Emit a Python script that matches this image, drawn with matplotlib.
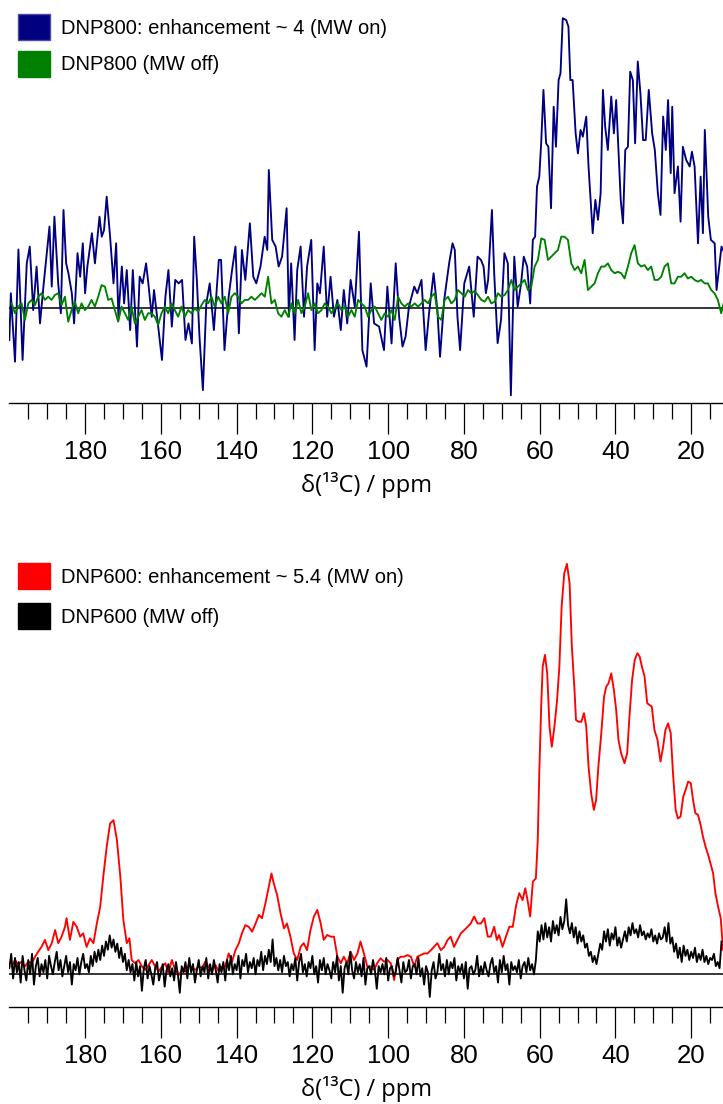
import matplotlib
matplotlib.use('Agg')
import matplotlib.pyplot as plt
from matplotlib.patches import Patch
from matplotlib.ticker import FixedLocator
import numpy as np

# ---- DNP800 (top panel), intensities normalised to the MW-on maximum ----
blue_ppm = [200.0, 199.6, 198.5, 197.6, 196.5, 195.4, 194.6, 193.7, 192.8, 191.9,
            191.0, 189.4, 188.8, 188.1, 187.1, 186.4, 185.7, 185.0, 184.4, 183.5,
            182.9, 182.0, 181.3, 180.6, 180.0, 179.4, 178.2, 177.4, 176.2, 175.6,
            175.0, 174.3, 173.4, 172.5, 171.8, 171.2, 170.3, 169.7, 169.0, 168.1,
            167.4, 166.3, 165.6, 164.8, 163.9, 163.3, 162.4, 161.8, 161.0, 159.7,
            158.8, 158.0, 157.1, 156.2, 155.3, 154.4, 153.5, 152.7, 151.8, 151.2,
            150.5, 149.8, 148.9, 148.0, 147.1, 146.0, 144.7, 144.1, 143.2, 142.1,
            141.2, 140.3, 139.4, 138.6, 137.7, 136.5, 135.6, 134.8, 133.7, 132.6,
            131.9, 131.5, 130.6, 129.7, 128.9, 128.0, 126.8, 126.2, 125.6, 124.7,
            124.0, 123.1, 122.2, 121.4, 120.3, 119.4, 118.7, 118.0, 117.0, 116.1,
            115.2, 114.3, 113.4, 112.5, 111.7, 110.8, 109.9, 108.8, 107.7, 106.8,
            105.7, 104.6, 103.7, 102.4, 101.1, 100.2, 99.1, 98.0, 97.1, 96.2,
            95.4, 94.5, 93.1, 92.3, 91.2, 90.1, 89.2, 88.0, 87.0, 86.3,
            85.2, 83.9, 83.0, 82.4, 81.7, 81.0, 79.9, 78.6, 77.4, 76.4,
            75.5, 74.8, 74.2, 73.6, 72.6, 72.0, 71.1, 70.2, 69.3, 68.4,
            67.6, 66.7, 65.8, 64.9, 64.2, 63.3, 62.5, 61.8, 61.2, 60.7,
            60.1, 59.6, 59.0, 58.3, 57.7, 57.0, 56.3, 55.7, 55.0, 54.5,
            53.9, 53.0, 52.4, 51.9, 51.3, 50.5, 49.9, 49.2, 48.6, 47.7,
            47.1, 46.0, 45.3, 44.6, 43.9, 43.3, 42.7, 42.0, 41.1, 40.4,
            39.8, 39.2, 38.6, 38.0, 37.4, 36.7, 36.1, 35.4, 34.8, 34.1,
            33.4, 32.7, 32.0, 31.2, 30.3, 29.6, 28.8, 28.1, 27.4, 26.7,
            26.1, 25.4, 25.0, 24.4, 23.5, 22.8, 22.2, 21.3, 20.4, 19.8,
            19.1, 18.2, 17.5, 16.9, 16.4, 15.5, 14.8, 13.8, 13.3, 12.7,
            12.0, 11.2]
blue_int = [-10.9, 5.2, -18.4, 20.3, -17.8, 15.5, 21.3, -0.6, 14.4, -5.2,
            7.5, 28.2, 7.5, 31.6, 8.6, -1.7, 33.9, 15.5, 12.1, 5.2,
            -5.2, 19.0, 10.9, 22.4, 5.2, 14.4, 25.9, 15.5, 31.6, 24.7,
            27.0, 38.5, 24.7, 8.6, 22.4, -2.9, 14.4, 1.7, 13.2, -7.5,
            13.2, -13.2, 10.9, 8.6, 15.5, 8.6, -2.9, 6.3, -2.9, -17.8,
            4.0, 13.2, -6.3, 9.8, 8.6, 9.8, -10.9, -5.2, -12.1, 24.7,
            9.8, -9.8, -28.2, 1.7, 8.6, -7.5, 16.7, 16.7, -14.4, 4.0,
            13.2, 21.3, -8.6, 20.1, 9.8, 29.3, 10.9, 8.6, 14.4, 24.7,
            20.1, 47.7, 23.6, 21.3, 14.4, 17.8, 34.5, -2.9, 15.5, -10.9,
            13.2, 21.3, -2.9, 14.4, 23.6, -14.4, 8.6, 5.2, 21.3, -2.9,
            10.9, -2.9, 2.9, -7.5, 6.3, -5.2, 9.8, 0.6, 26.4, -14.4,
            -20.1, 8.6, -5.2, -6.3, -14.4, 7.5, -12.1, 15.5, -2.9, -13.2,
            -9.8, 0.6, 7.5, 5.2, 9.8, -14.4, -1.7, 12.1, -0.6, -16.7,
            2.9, 15.5, 22.4, 20.1, -2.9, -14.4, 8.6, 14.4, -2.9, 17.8,
            16.7, 14.4, 5.2, 9.8, 33.9, 12.1, -12.0, -4.0, 19.0, 15.5,
            -30.0, 17.8, 0.6, 8.6, 17.8, 14.4, 1.7, 23.6, 24.7, 42.0,
            45.4, 56.9, 75.3, 56.9, 55.7, 34.5, 69.5, 55.7, 78.7, 81.0,
            100.0, 99.4, 97.1, 78.7, 78.7, 60.3, 53.4, 61.5, 59.2, 66.1,
            48.9, 25.9, 37.4, 30.5, 39.7, 75.3, 62.6, 54.6, 73.0, 60.3,
            71.8, 54.6, 37.4, 29.3, 54.6, 55.7, 81.6, 78.7, 56.9, 85.1,
            74.1, 58.0, 58.0, 75.3, 60.3, 54.6, 39.7, 32.2, 66.1, 54.6,
            71.8, 46.6, 69.5, 39.7, 48.9, 29.9, 55.7, 51.1, 48.9, 54.0,
            48.9, 22.4, 45.4, 25.9, 61.5, 31.6, 23.6, 22.4, 6.3, 13.2,
            21.3, 19.0]

# MW off, sampled evenly from 199.4 to 11.2 ppm
green_int = [1.7, -1.7, 0.6, 1.7, -4.0, 1.7, 2.9, 1.1, 4.0, 5.2,
             2.9, 4.0, 2.9, 4.6, 5.2, 1.1, 4.0, -4.6, -0.6, 2.3,
             -1.7, 1.7, -0.6, 0.6, 2.9, 0.6, 4.0, 8.0, 7.5, 2.9,
             3.4, -0.6, -4.6, 0.6, -1.7, -4.0, 0.6, -5.2, -2.9, -0.6,
             -4.0, -1.7, -1.7, -2.9, -5.7, -1.7, 0.6, -1.7, 1.7, -0.6,
             -2.9, 0.6, -2.9, -0.6, -1.7, 0.0, -1.1, 1.1, 2.9, 1.7,
             4.0, 0.6, 4.0, 1.7, 4.0, -1.7, 4.0, 5.2, 4.0, 1.7,
             2.9, 2.9, 4.0, 2.9, 4.0, 5.2, 4.0, 10.9, 1.7, 2.9,
             -1.7, -2.9, -0.6, -2.9, 1.7, -1.7, 2.9, -1.7, 0.6, 5.2,
             -0.6, 1.7, -1.7, -0.6, 1.7, 0.6, -1.7, 0.0, 1.7, -0.6,
             0.6, -2.9, -0.6, -2.9, 2.9, 1.7, 0.6, -2.9, -0.6, 0.6,
             -1.7, -4.0, -1.7, -2.9, -0.6, -4.0, 4.0, 1.7, 0.6, 1.7,
             0.6, 1.7, 0.6, 1.7, 2.9, 1.7, 4.0, 5.2, -2.9, -4.0,
             2.9, 4.0, 1.7, 2.9, 6.3, 5.2, 4.0, 6.3, 5.2, 6.0,
             4.5,
             2.9, 2.3, 4.0, 1.7, 2.3, 5.2, 4.0, 4.6, 6.3, 9.8,
             6.3, 7.5, 8.6, 9.8, 6.3, 7.5, 14.4, 16.7, 24.1, 23.6,
             16.7, 17.8, 19.0, 20.1, 24.7, 24.7, 23.6, 15.5, 13.2, 14.4,
             12.1, 16.7, 6.3, 7.5, 8.6, 12.1, 14.4, 14.4, 15.5, 13.2,
             12.1, 12.6, 12.1, 10.3, 14.4, 19.0, 21.8, 15.5, 14.4, 14.9,
             13.2, 14.4, 9.8, 9.8, 10.9, 14.4, 15.5, 8.6, 8.6, 10.9,
             10.9, 12.1, 10.3, 10.9, 9.8, 9.2, 9.8, 8.6, 8.6, 6.3,
             5.2, 2.9, -1.7, 2.9]

# ---- DNP600 (bottom panel) ----
red_ppm = [199.4, 198.5, 197.6, 196.8, 195.9, 195.0, 194.1, 193.2, 192.4, 191.5,
           190.6, 189.7, 188.8, 187.9, 187.1, 186.2, 185.3, 184.9, 184.0, 183.1,
           182.2, 181.3, 180.5, 179.6, 178.7, 177.8, 176.9, 176.0, 175.2, 174.3,
           173.4, 172.5, 171.6, 170.7, 169.9, 169.0, 168.3, 167.7, 166.8, 165.9,
           165.0, 164.1, 163.2, 162.4, 161.5, 160.6, 159.7, 158.8, 158.0, 157.1,
           156.2, 155.3, 154.4, 153.5, 152.7, 151.8, 150.9, 150.0, 149.1, 148.3,
           147.4, 146.5, 145.6, 144.7, 143.8, 143.0, 142.1, 141.2, 140.3, 139.4,
           138.6, 137.7, 136.8, 135.9, 135.0, 134.1, 133.3, 132.4, 131.5, 130.8,
           130.2, 129.3, 128.4, 127.5, 126.7, 125.8, 124.9, 124.0, 123.1, 122.3,
           121.4, 120.5, 119.6, 118.7, 117.8, 117.0, 116.1, 115.2, 114.3, 113.4,
           112.5, 111.7, 110.8, 109.9, 109.0, 108.1, 107.3, 106.4, 105.5, 104.6,
           103.7, 102.9, 102.0, 101.1, 100.2, 99.3, 98.4, 97.6, 96.7, 95.8,
           94.9, 94.0, 93.1, 92.3, 91.4, 90.5, 89.6, 88.7, 87.9, 87.0,
           86.1, 85.2, 84.3, 83.5, 82.6, 81.7, 80.8, 79.9, 79.0, 78.2,
           77.3, 76.4,
           75.5, 74.6, 73.7, 72.9, 72.0, 71.3, 70.7, 69.8, 68.9, 68.0,
           67.1, 66.2, 65.4, 64.5, 63.8, 63.2, 62.5, 61.8, 61.0, 60.5,
           60.1, 59.6, 59.2, 58.6, 58.0, 57.4, 56.8, 56.1, 55.4, 54.8,
           54.2, 53.5, 52.8, 52.1, 51.5, 50.8, 50.4, 49.7, 49.0, 48.3,
           47.7, 47.1, 46.4, 45.7, 45.1, 44.5, 43.8, 43.0, 42.4, 41.8,
           41.1, 40.4, 39.8, 39.2, 38.5, 37.6, 36.9, 36.3, 35.6, 34.9,
           34.2, 33.6, 33.0, 32.3, 31.6, 31.0, 30.4, 29.7, 28.9, 28.1,
           27.4, 26.8, 26.1, 25.4, 24.8, 24.1, 23.5, 22.8, 22.1, 21.5,
           20.8, 20.1, 19.5, 18.9, 18.2, 17.5, 16.9, 16.2, 15.5, 14.8,
           14.2, 13.6, 12.9, 12.2, 11.6]
red_int = [1.9, 3.5, 2.3, 3.1, 1.9, 3.1, 2.7, 4.3, 5.5, 6.7,
           8.4, 5.9, 7.6, 10.8, 7.6, 9.2, 11.6, 13.7, 8.4, 12.8,
           11.6, 9.2, 10.0, 6.7, 8.8, 7.6, 12.4, 16.5, 23.8, 31.1,
           36.8, 37.6, 32.8, 23.8, 13.3, 7.6, 8.8, 3.5, 2.7, 3.5,
           1.9, 1.1, 2.3, 3.5, 1.9, 0.7, 1.9, 2.7, 0.2, 3.5,
           1.1, -0.2, 1.1, 0.7, 2.3, 1.5, 1.1, 1.9, 1.5, 3.1,
           1.9, 0.7, 2.3, 0.7, 1.9, 1.9, 5.1, 3.1, 5.9, 7.6,
           10.0, 12.0, 11.6, 10.4, 12.4, 14.5, 13.7, 17.3, 21.4, 24.6,
           22.2, 19.3, 14.9, 11.2, 12.4, 9.2, 5.1, 3.5, 6.7, 7.6,
           5.9, 10.8, 14.1, 15.7, 12.4, 8.4, 9.6, 9.2, 9.2, 4.3,
           2.7, 4.3, 2.7, 5.5, 3.5, 5.1, 8.0, 5.1, 1.9, 1.9,
           1.1, 2.7, 3.9, 3.1, 3.5, 2.7, -1.4, 3.5, 4.3, 4.3,
           4.7, 4.3, 1.9, 4.3, 4.7, 5.1, 5.1, 5.9, 6.7, 7.6,
           5.9, 6.7, 8.4, 9.2, 6.7, 8.4, 10.0, 10.8, 11.6, 12.4,
           14.1, 12.4,
           12.4, 13.7, 9.2, 9.2, 11.6, 8.4, 9.6, 6.7, 9.2, 11.6,
           11.6, 16.9, 19.8, 18.1, 21.0, 18.1, 14.1, 22.6, 23.4, 32.8,
           49.0, 65.3, 75.0, 77.9, 73.4, 60.4, 55.5, 60.4, 66.9, 75.0,
           89.7, 97.8, 100.1, 95.4, 79.9, 69.3, 62.0, 61.6, 61.6, 63.7,
           60.4, 50.7, 44.1, 40.1, 42.5, 50.7, 58.0, 67.7, 70.2, 71.0,
           73.4, 69.3, 64.5, 57.2, 53.9, 51.5, 53.9, 62.8, 71.8, 76.7,
           78.3, 77.5, 75.0, 72.6, 66.1, 65.7, 65.3, 59.6, 57.2, 51.9,
           55.5, 59.6, 61.2, 58.8, 49.0, 40.1, 38.0, 38.5, 43.3, 44.9,
           47.0, 46.6, 42.5, 39.3, 38.9, 36.4, 33.6, 31.1, 29.1, 26.7,
           24.6, 19.8, 16.5, 13.7, 6.0]

# MW off, sampled every 0.5 ppm from 200 to 12 ppm
black_int = [1.5, 5.0, -1.0, 4.0, 0.5, 3.0, -2.0, 4.5, 1.0, -1.5,
             3.5, 0.0, 5.0, -2.5, 2.0, 4.0, -0.5, 2.5, 0.5, 3.5,
             -1.0, 4.5, 2.0, 0.0, 3.0, 5.5, 1.0, 3.5, -0.5, 2.0,
             4.5, 0.5, 3.0, -2.5, 2.5, 1.0, 4.0, 0.0, 3.0, 5.0,
             1.5, 2.5, 0.5, 4.5, 2.0, 5.5, 3.0, 6.0,
             3.5, 7.0, 4.5, 8.0, 6.0, 9.5, 6.5, 8.5, 5.5, 7.5,
             4.0, 6.5, 3.0, 5.0, 1.0, 3.5,
             0.5, 2.5, -1.5, 3.0, -0.5, 2.0, -4.0, 1.5, 3.5, -1.0,
             2.0, 0.0, -2.5, 1.5, 3.0, -1.5, 0.5, 2.5, -3.0, 1.0,
             2.5, -0.5, 1.5, -1.5, 3.0, 0.0, -4.5, 2.0, 0.5, 3.0,
             -1.0, 4.0, 0.5, 2.5, -2.0, 1.0, 3.5, -0.5, 2.0, 0.5,
             4.0, -1.0, 2.5, 0.0, 3.5, 1.0, -2.0, 2.5, 0.5, 3.0,
             -1.5, 3.5, 1.0, 4.5, 0.0, 2.5,
             1.0, 4.5, -1.0, 3.5, 2.0, 5.0, 0.5, 3.0, 1.5, 4.0,
             0.0, 3.5, 2.0, 5.5, 1.0, 4.5, 2.5, 6.0, 3.0, 8.5,
             2.0, 4.0, 1.0, 3.5, 0.5, 4.5, 2.0, 3.0, -0.5, 2.5,
             1.0, 4.0, -1.5, 3.0, 5.0, 0.5, 2.5, -0.5, 3.0, 1.5,
             4.5, 0.0, 2.0, -2.0, 3.5, 1.0, 4.0, 0.0, 2.5, 1.0,
             -1.0, 3.0, 0.5, 4.5, -1.5, 2.0, -4.5, 1.5, 3.0, 0.0,
             5.5, 1.0, -1.0, 3.0, 0.5, 2.5, -0.5, 4.0, -2.5, 1.5,
             2.0, 0.0, 3.5, 1.0, -3.5, 2.0, 0.5, 2.5, 0.0, 4.0,
             -1.5, 1.5, 2.0, -0.5, 0.5, 4.0, 1.0, -2.0, 3.0, 0.5,
             1.0, 3.5, -1.0, 2.0, 2.5, 0.0, 4.0, -0.5, 1.5, -2.5,
             2.0, 0.5, -5.5, 1.0, 3.0, -1.0, 0.5, 5.0, 1.0, 2.5,
             -0.5, 3.5, 0.0, 3.0, 1.5, 4.0, -1.5, 2.0, 0.5, 2.5,
             -1.0, 3.0, -3.5, 1.5, 2.0, 0.0, 1.0, 4.5, -0.5, 2.0,
             0.0, 3.0, 1.0, -0.5, 2.5, 4.0, 0.5, 2.0, -2.0, 3.5,
             0.5, 4.5, 1.0, 2.5, -2.5, 3.0, 1.0, 2.0, 0.5, 3.5,
             -1.0, 2.0, 3.0, 0.5, 4.0, 1.0, 2.5, 0.0,
             3.5, 10.5, 8.0, 12.0, 8.5, 12.5, 9.0, 11.5, 8.0, 13.0,
             10.0, 12.0, 9.5, 14.0, 11.0, 13.0, 18.3, 12.0, 10.0, 12.5,
             9.0, 11.5, 7.5, 10.5, 8.0, 9.5, 6.5, 7.5, 4.5, 5.5,
             3.0, 4.5, 2.5, 5.0, 7.5, 6.0, 10.5, 8.0, 11.0, 7.0,
             10.0, 8.5, 11.5, 7.0, 9.0, 6.5, 8.5, 10.5, 8.0, 11.5,
             9.5, 12.5, 10.0, 11.0, 9.0, 12.0, 9.5, 10.5, 8.5, 10.0,
             9.0, 11.0, 8.0, 9.5, 7.5, 10.0, 8.5, 9.0, 11.5, 8.0,
             12.5, 7.5, 9.0, 5.5, 7.5, 4.0, 6.5, 3.0, 7.0, 4.5,
             6.0, 3.5, 5.5, 4.0, 6.5, 3.0, 5.0, 3.5, 6.0, 3.0,
             4.5, 2.5, 4.0, 3.5, 5.0, 2.0, 3.0, 1.5, 8.0]

top_labels = ['DNP800: enhancement ~ 4 (MW on)', 'DNP800 (MW off)']
top_colors = ['#000080', '#008000']
bottom_labels = ['DNP600: enhancement ~ 5.4 (MW on)', 'DNP600 (MW off)']
bottom_colors = ['#ff0000', '#000000']
major_ticks = [180, 160, 140, 120, 100, 80, 60, 40, 20]
minor_ticks = [195, 190, 185, 175, 170, 165, 155, 150, 145, 135, 130, 125,
               115, 110, 105, 95, 90, 85, 75, 70, 65, 55, 50, 45, 35, 30, 25, 15]

tick_font = ['Liberation Sans Narrow', 'Liberation Sans', 'DejaVu Sans']
text_font = ['Liberation Sans', 'DejaVu Sans']
label_font = ['Open Sans', 'DejaVu Sans']


def style_axis(ax, ylim):
    ax.set_xlim(200, 11.6)
    ax.set_ylim(*ylim)
    for side in ['top', 'right', 'left']:
        ax.spines[side].set_visible(False)
    ax.spines['bottom'].set_linewidth(1.0)
    ax.set_yticks([])
    ax.xaxis.set_major_locator(FixedLocator(major_ticks))
    ax.xaxis.set_minor_locator(FixedLocator(minor_ticks))
    ax.tick_params(axis='x', which='major', length=22, width=0.9, pad=4.5,
                   labelsize=18.5, labelfontfamily=tick_font)
    ax.tick_params(axis='x', which='minor', length=11.3, width=0.9)
    ax.axhline(0, color='black', lw=1.1, zorder=1)
    ax.set_xlabel('δ(¹³C) / ppm', fontsize=17, family=label_font, labelpad=6)
    ax.patch.set_alpha(0)


fig = plt.figure(figsize=(7.23, 11.04), dpi=100)
ax1 = fig.add_axes([0.0129, 0.6352, 0.9871, 0.3648])
ax2 = fig.add_axes([0.0129, 0.0881, 0.9871, 0.4227])

green_ppm = np.linspace(199.4, 11.2, len(green_int))
black_ppm = np.linspace(200, 12, len(black_int))

ax1.plot(blue_ppm, blue_int, color=top_colors[0], lw=1.35, zorder=2)
ax1.plot(green_ppm, green_int, color=top_colors[1], lw=1.35, zorder=3)
style_axis(ax1, (-32.55, 106.3))

ax2.plot(red_ppm, red_int, color=bottom_colors[0], lw=1.35, zorder=2)
ax2.plot(black_ppm, black_int, color=bottom_colors[1], lw=1.35, zorder=3)
style_axis(ax2, (-7.9, 105.9))

h_top = [Patch(facecolor=top_colors[0], edgecolor='#4a4aa8', lw=1),
         Patch(facecolor=top_colors[1], edgecolor=top_colors[1], lw=1)]
fig.legend(h_top, top_labels, loc='upper left', bbox_to_anchor=(18 / 723, 1 - 14 / 1104),
           frameon=False, prop={'family': text_font, 'size': 14.5},
           handlelength=1.6, handleheight=1.6, handletextpad=0.55,
           labelspacing=0.55, borderpad=0, borderaxespad=0)

h_bot = [Patch(facecolor=c, edgecolor=c, lw=1) for c in bottom_colors]
fig.legend(h_bot, bottom_labels, loc='upper left', bbox_to_anchor=(18 / 723, 1 - 563 / 1104),
           frameon=False, prop={'family': text_font, 'size': 14.5},
           handlelength=1.6, handleheight=1.6, handletextpad=0.55,
           labelspacing=0.7, borderpad=0, borderaxespad=0)

fig.savefig('out.png', dpi=100)
